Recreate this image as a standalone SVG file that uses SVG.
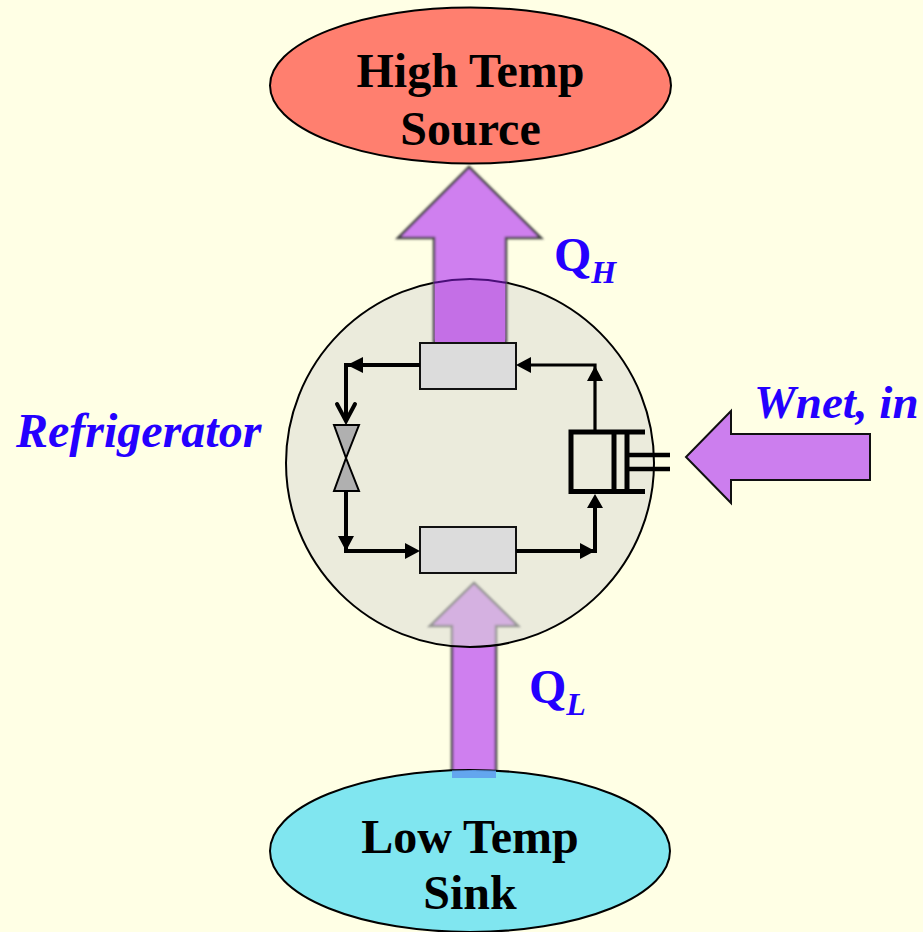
<svg xmlns="http://www.w3.org/2000/svg" width="923" height="932" viewBox="0 0 923 932">
<defs>
<style>
.t{font-family:"Liberation Serif","Times New Roman",serif;font-weight:bold;fill:#000;font-size:48px;text-anchor:middle}
.b{font-family:"Liberation Serif","Times New Roman",serif;font-weight:bold;fill:#2400ff}
.i{font-style:italic}
.arrow{fill:#cf7fef;stroke:#444;stroke-width:2.500;stroke-linejoin:miter}
.box{fill:#dcdcdc;stroke:#111;stroke-width:2}
.ln{fill:none;stroke:#000;stroke-width:4}
.ah{fill:#000;stroke:none}
.valve{fill:#b0b0b0;stroke:#000;stroke-width:2}
</style>
<filter id="soft" x="-5%" y="-5%" width="110%" height="110%"><feGaussianBlur stdDeviation="0.8"/></filter>
</defs>
<rect width="923" height="932" fill="#ffffe5"/>
<g id="connectors">
<path id="arrow-ql" class="arrow" filter="url(#soft)" d="M474 583L518 626H496V778H452V626H430Z"/>
</g>
<g id="refrigerator">
<circle cx="470" cy="463" r="184" fill="#dbdbd6" fill-opacity="0.55"/>
<circle cx="470" cy="463" r="184" fill="none" stroke="#000" stroke-width="2"/>
</g>
<g id="connectors-upper">
<path id="arrow-qh" class="arrow" filter="url(#soft)" d="M469 167L541 238H506V342H434V238H398Z"/>
<path d="M435 282.500A184 184 0 0 1 505 282.500V342H435Z" fill="#c46fe6"/>
<path d="M434 282.700A184 184 0 0 1 506 282.700" fill="none" stroke="#4a0f78" stroke-width="2"/>
<path id="arrow-w" d="M731 411V434H870V480H731V503L686 457Z" fill="#cc7eee" stroke="#111" stroke-width="2"/>
</g>
<g id="high-temp-source">
<ellipse cx="470.500" cy="85.500" rx="200.500" ry="78" fill="#ff7f6f" stroke="#000" stroke-width="2"/>
<text class="t" x="470.500" y="87">High Temp</text>
<text class="t" x="470.500" y="145">Source</text>
</g>
<g id="low-temp-sink">
<ellipse cx="470" cy="851" rx="200" ry="81" fill="#80e6f0" stroke="#000" stroke-width="2"/>
<path d="M452 770.500Q474 769.500 496 770.500V778H452Z" fill="#5f9fee" opacity="0.9"/>
<text class="t" x="470" y="853">Low Temp</text>
<text class="t" x="470" y="909">Sink</text>
</g>
<g id="condenser"><rect class="box" x="420" y="343" width="96" height="46"/></g>
<g id="evaporator"><rect class="box" x="420" y="527" width="96" height="46"/></g>
<g id="valve">
<path class="valve" d="M334 425H359L346 458ZM346 458L359 491H334Z"/>
</g>
<g id="compressor">
<path d="M645 432H571V491.500H645" fill="none" stroke="#000" stroke-width="5"/>
<path d="M614 432V491.500M627 432V491.500" fill="none" stroke="#000" stroke-width="5"/>
<path d="M628 455H670M628 469H670" fill="none" stroke="#000" stroke-width="4.500"/>
</g>
<g id="cycle-lines">
<path class="ln" d="M420 365H346V418M346 491V551H416M516 551H595V505"/>
<path d="M595 432V365H530" fill="none" stroke="#000" stroke-width="3.200"/>
<path class="ah" d="M347 365L363 357V373ZM516 365L531 357V373ZM595 366L587 381H603ZM346 551L338 536H354ZM420 551L405 543V559ZM595 551L580 543V559ZM595 494L587 508H603Z"/>
<path d="M337 404L346 421L355 404" fill="none" stroke="#000" stroke-width="4" stroke-linecap="round"/>
</g>
<g id="labels">
<text class="b" x="554" y="271" font-size="48">Q<tspan class="i" font-size="32" dy="12">H</tspan></text>
<text class="b" x="529" y="703" font-size="48">Q<tspan class="i" font-size="32" dy="12">L</tspan></text>
<text class="b i" x="16" y="447" font-size="48">Refrigerator</text>
<text class="b i" x="754" y="418" font-size="47">Wnet, in</text>
</g>
</svg>
